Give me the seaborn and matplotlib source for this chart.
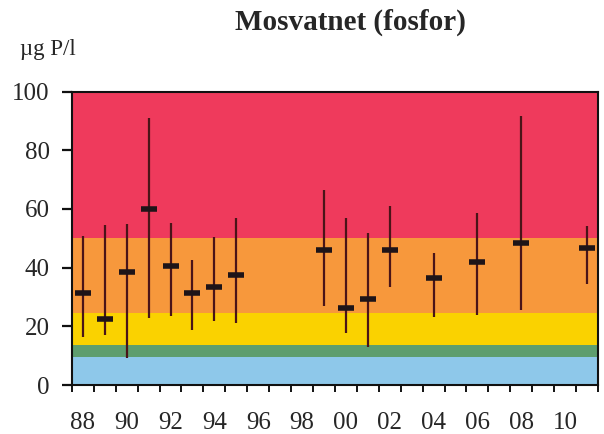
import matplotlib
matplotlib.use("Agg")
import matplotlib.pyplot as plt
import seaborn as sns
import pandas as pd
import numpy as np

# ---- data ----
years = [1988, 1989, 1990, 1991, 1992, 1993, 1994, 1995,
         1999, 2000, 2001, 2002, 2004, 2006, 2008, 2011]
means = [31.3, 22.5, 38.4, 59.9, 40.7, 31.3, 33.5, 37.5,
         46.0, 26.1, 29.3, 46.0, 36.4, 41.8, 48.3, 46.6]
mins = [16.5, 17.0, 9.3, 22.7, 23.5, 18.8, 21.9, 21.0,
        26.9, 17.6, 13.1, 33.5, 23.1, 23.9, 25.6, 34.3]
maxs = [50.8, 54.5, 54.9, 91.1, 55.3, 42.6, 50.6, 56.8,
        66.5, 56.8, 51.9, 61.0, 44.9, 58.5, 91.7, 54.3]

band_edges = [0, 9.7, 13.7, 24.5, 50, 100]
band_colors = ["#8ec8ea", "#5e9e6e", "#fad200", "#f7983c", "#ef3a5c"]

tick_label_years = list(range(1988, 2012, 2))
tick_labels = ["88", "90", "92", "94", "96", "98", "00", "02", "04", "06", "08", "10"]

title = "Mosvatnet (fosfor)"
ylabel = "\u00b5g P/l"

df = pd.DataFrame({"year": years, "mean": means, "low": mins, "high": maxs})

# ---- plot ----
sns.set_style("white")
plt.rcParams["font.family"] = ["Liberation Serif", "DejaVu Serif"]

fig = plt.figure(figsize=(6.04, 4.34), dpi=100)
ax = fig.add_axes([0.119, 0.1129, 0.871, 0.676])

for lo, hi, c in zip(band_edges[:-1], band_edges[1:], band_colors):
    ax.axhspan(lo, hi, color=c, lw=0, zorder=0)

ax.vlines(df["year"], df["low"], df["high"], color="#4a1418", lw=1.6, zorder=2)

sns.scatterplot(data=df, x="year", y="mean", marker="_", s=140,
                linewidth=4.0, color="#1e1418", ax=ax, zorder=3, legend=False)

ax.set_xlim(1987.5, 2011.5)
ax.set_ylim(0, 100)

ax.set_xticks(np.arange(1987.5, 2012, 1.0))
ax.set_xticklabels([])
ax.set_xticks(tick_label_years, minor=True)
ax.set_xticklabels(tick_labels, minor=True)
ax.tick_params(axis="x", which="major", direction="out", length=5, width=1.4,
               color="#111111", bottom=True)
ax.tick_params(axis="x", which="minor", length=0, pad=19.5, labelsize=18)

ax.set_yticks([0, 20, 40, 60, 80, 100])
ax.tick_params(axis="y", direction="out", length=7, width=1.6, color="#111111",
               labelsize=18, pad=9, left=True)

ax.set_xlabel("")
ax.set_ylabel("")

for sp in ax.spines.values():
    sp.set_visible(True)
    sp.set_color("#111111")
    sp.set_linewidth(1.5)

fig.text(0.58, 0.948, title, ha="center", va="center", fontsize=21, fontweight="bold")
fig.text(0.033, 0.885, ylabel, ha="left", va="center", fontsize=16.5)

fig.savefig("out.png", dpi=100)
